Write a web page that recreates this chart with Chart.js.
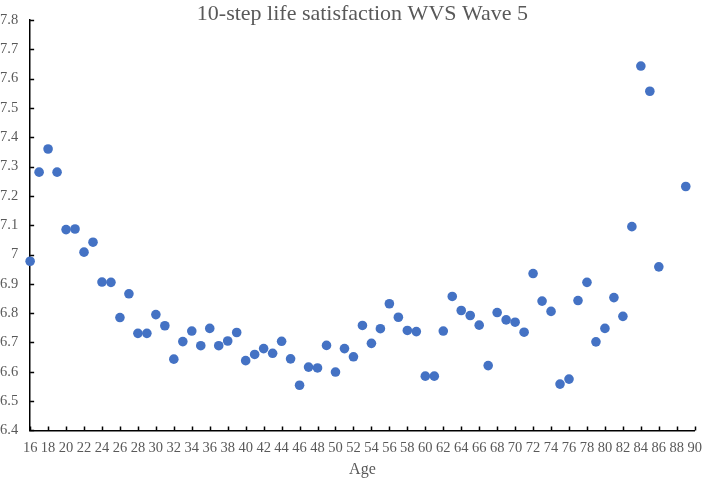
<!DOCTYPE html>
<html>
<head>
<meta charset="utf-8">
<script src="https://cdn.jsdelivr.net/npm/chart.js@4/dist/chart.umd.min.js"></script>
<style>
  html, body { margin: 0; padding: 0; background: #ffffff; }
  #wrap { width: 702px; height: 478px; position: relative; }
</style>
</head>
<body>
<div id="wrap"><canvas id="c" width="702" height="478"></canvas></div>
<script>
const chartTitle = "10-step life satisfaction WVS Wave 5";
const xAxisTitle = "Age";
const ages = [16,17,18,19,20,21,22,23,24,25,26,27,28,29,30,31,32,33,34,35,36,37,38,39,40,41,42,43,44,45,46,47,48,49,50,51,52,53,54,55,56,57,58,59,60,61,62,63,64,65,66,67,68,69,70,71,72,73,74,75,76,77,78,79,80,81,82,83,84,85,86,89];
const satisfaction = [6.977,7.281,7.360,7.281,7.085,7.087,7.008,7.042,6.906,6.905,6.785,6.866,6.731,6.731,6.795,6.757,6.643,6.703,6.739,6.689,6.748,6.689,6.705,6.734,6.638,6.659,6.679,6.663,6.704,6.644,6.554,6.616,6.613,6.690,6.599,6.679,6.651,6.758,6.697,6.747,6.832,6.786,6.741,6.737,6.585,6.585,6.739,6.857,6.809,6.792,6.759,6.621,6.802,6.777,6.769,6.735,6.935,6.841,6.806,6.558,6.575,6.843,6.905,6.702,6.748,6.853,6.789,7.095,7.643,7.557,6.958,7.232];
const xMin = 16, xMax = 90, xStep = 2;
const yMin = 6.4, yMax = 7.8, yStep = 0.1;

const points = ages.map((a, i) => ({ x: a, y: satisfaction[i] }));

const innerTicks = {
  id: 'innerTicks',
  afterDraw(chart) {
    const ctx = chart.ctx;
    const xs = chart.scales.x, ys = chart.scales.y;
    ctx.save();
    ctx.strokeStyle = '#000000';
    ctx.lineWidth = 1.5;
    ctx.beginPath();
    xs.ticks.forEach(t => {
      const px = Math.round(xs.getPixelForValue(t.value)) + 0.5;
      ctx.moveTo(px, ys.bottom);
      ctx.lineTo(px, ys.bottom - 4);
    });
    ys.ticks.forEach(t => {
      const py = Math.round(ys.getPixelForValue(t.value)) + 0.5;
      ctx.moveTo(xs.left, py);
      ctx.lineTo(xs.left + 4, py);
    });
    ctx.stroke();
    ctx.restore();
  }
};

new Chart(document.getElementById('c'), {
  type: 'scatter',
  data: {
    datasets: [{
      data: points,
      backgroundColor: '#4472C4',
      borderColor: '#4472C4',
      pointRadius: 4.8,
      pointHoverRadius: 4.8,
      borderWidth: 0,
      clip: false
    }]
  },
  options: {
    responsive: false,
    animation: false,
    layout: { autoPadding: false, padding: { left: 0, right: 0, top: 3, bottom: 0 } },
    plugins: {
      legend: { display: false },
      tooltip: { enabled: false },
      title: {
        display: true,
        fullSize: false,
        text: chartTitle,
        color: '#595959',
        font: { family: 'Liberation Serif', size: 22, weight: 'normal', lineHeight: 1.0 },
        padding: { top: 0, bottom: -5 }
      }
    },
    scales: {
      x: {
        type: 'linear',
        min: xMin, max: xMax,
        border: { display: true, color: '#000000', width: 1.5 },
        grid: { display: true, drawOnChartArea: false, drawTicks: true, tickLength: 9, tickColor: 'rgba(0,0,0,0)' },
        ticks: {
          stepSize: xStep,
          color: '#595959',
          padding: 0,
          maxRotation: 0,
          autoSkip: false,
          font: { family: 'Liberation Serif', size: 14.5 }
        },
        title: {
          display: true,
          text: xAxisTitle,
          color: '#595959',
          padding: { top: 3, bottom: -1 },
          font: { family: 'Liberation Serif', size: 16 }
        }
      },
      y: {
        type: 'linear',
        min: yMin, max: yMax,
        border: { display: true, color: '#000000', width: 1.5 },
        grid: { display: true, drawOnChartArea: false, drawTicks: true, tickLength: 12, tickColor: 'rgba(0,0,0,0)' },
        ticks: {
          stepSize: yStep,
          color: '#595959',
          padding: 0,
          font: { family: 'Liberation Serif', size: 14.5 },
          callback: (v) => String(Number(v.toFixed(1)))
        }
      }
    }
  },
  plugins: [innerTicks]
});
</script>
</body>
</html>
